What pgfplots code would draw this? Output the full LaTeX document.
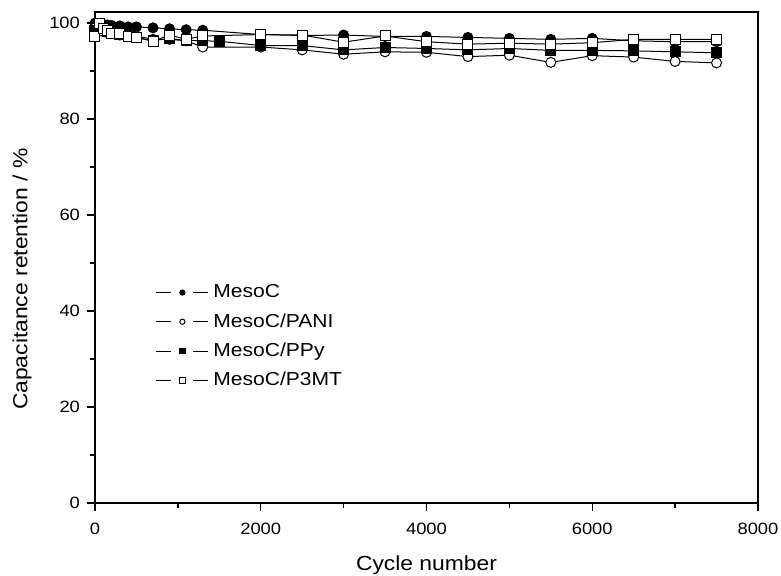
\documentclass[border=0pt]{standalone}
\usepackage{fontspec}
\setmainfont{Liberation Sans}[FakeStretch=1.12]
\usepackage{pgfplots}
\pgfplotsset{compat=1.18}
\usepackage{pgfplotstable}

% Capacitance retention (%) versus cycle number
\pgfplotstableread{
cyc   ret
0     100.0
50    99.8
100   99.7
150   99.6
200   99.5
300   99.4
400   99.2
500   99.2
700   99.0
900   98.8
1100  98.6
1300  98.5
2000  97.6
2500  97.4
3000  97.5
3500  97.2
4000  97.2
4500  97.0
5000  96.8
5500  96.6
6000  96.8
6500  96.3
7000  96.1
7500  96.1
}\mesoc

\pgfplotstableread{
cyc   ret
0     99.0
50    98.8
100   98.2
150   98.0
200   97.8
300   97.5
400   97.5
500   97.3
700   96.6
900   96.6
1100  96.3
1300  95.0
2000  95.0
2500  94.4
3000  93.5
3500  94.0
4000  93.9
4500  93.0
5000  93.3
5500  91.8
6000  93.2
6500  92.9
7000  92.0
7500  91.7
}\pani

\pgfplotstableread{
cyc   ret
0     98.5
50    99.2
100   98.8
150   98.2
200   97.8
300   97.6
400   97.1
500   96.9
700   96.4
900   96.7
1100  96.4
1300  96.3
1500  96.2
2000  95.3
2500  95.3
3000  94.4
3500  94.9
4000  94.7
4500  94.4
5000  94.7
5500  94.3
6000  94.3
6500  94.2
7000  94.0
7500  93.8
}\ppy

\pgfplotstableread{
cyc   ret
0     97.2
50    99.8
100   98.9
150   98.4
200   97.9
300   97.8
400   97.2
500   97.0
700   96.2
900   97.5
1100  96.6
1300  97.3
2000  97.6
2500  97.5
3000  96.0
3500  97.3
4000  96.1
4500  95.6
5000  95.8
5500  95.6
6000  95.9
6500  96.6
7000  96.6
7500  96.6
}\ptmt

\begin{document}
\begin{tikzpicture}
\begin{axis}[
  name=main,
  scale only axis,
  width=331.5pt, height=245.5pt,
  xmin=0, xmax=8000, ymin=0, ymax=102.3,
  xtick={0,2000,...,8000},
  minor xtick={1000,3000,5000,7000},
  ytick={0,20,...,100},
  minor ytick={10,30,50,70,90},
  axis line style={line width=1pt},
  tick style={line width=0.7pt, black},
  tick align=outside,
  major tick length=4pt,
  minor tick length=2.5pt,
  xtick pos=bottom, ytick pos=left,
  /pgf/number format/assume math mode=true,
  /pgf/number format/1000 sep={},
  tick label style={font=\fontsize{8.2}{9.5}\selectfont},
  xticklabel style={yshift=-2.5pt},
  label style={font=\fontsize{10.2}{12}\selectfont},
  xlabel={Cycle number},
  ylabel={Capacitance retention / \%},
  x label style={at={(axis description cs:0.5,-0.126)}, anchor=center},
  y label style={at={(axis description cs:-0.110,0.456)}, anchor=center},
  legend cell align=left,
  legend style={draw=none, fill=none,
    at={(axis description cs:0.0905,0.456)}, anchor=north west,
    font=\fontsize{9.4}{11}\selectfont, row sep=1.4pt, inner sep=0pt,
    nodes={inner sep=2.5pt}},
  legend image code/.code={
    \draw[#1,mark=none] (0pt,0pt)--(7.5pt,0pt);
    \draw[#1,mark=none] (18.5pt,0pt)--(26pt,0pt);
    \draw[#1,mark size=1.3pt] plot coordinates {(13.25pt,0pt)};
  },
]
\addplot[black, line width=0.5pt, mark=*, mark size=2.5pt,
  mark options={fill=black, solid}] table[x=cyc,y=ret] {\mesoc};
\addlegendentry{MesoC}
\addplot[black, line width=0.5pt, mark=*, mark size=2.5pt,
  mark options={fill=white, solid}] table[x=cyc,y=ret] {\pani};
\addlegendentry{MesoC/PANI}
\addplot[black, line width=0.5pt, mark=square*, mark size=2.5pt,
  mark options={fill=black, solid}] table[x=cyc,y=ret] {\ppy};
\addlegendentry{MesoC/PPy}
\addplot[black, line width=0.5pt, mark=square*, mark size=2.5pt,
  mark options={fill=white, solid}] table[x=cyc,y=ret] {\ptmt};
\addlegendentry{MesoC/P3MT}
\end{axis}
% page frame: margins around the axis box
\pgfresetboundingbox
\path ([xshift=-47.5pt, yshift=-36.5pt]main.south west)
  rectangle ([xshift=11.5pt, yshift=6pt]main.north east);
\end{tikzpicture}
\end{document}
